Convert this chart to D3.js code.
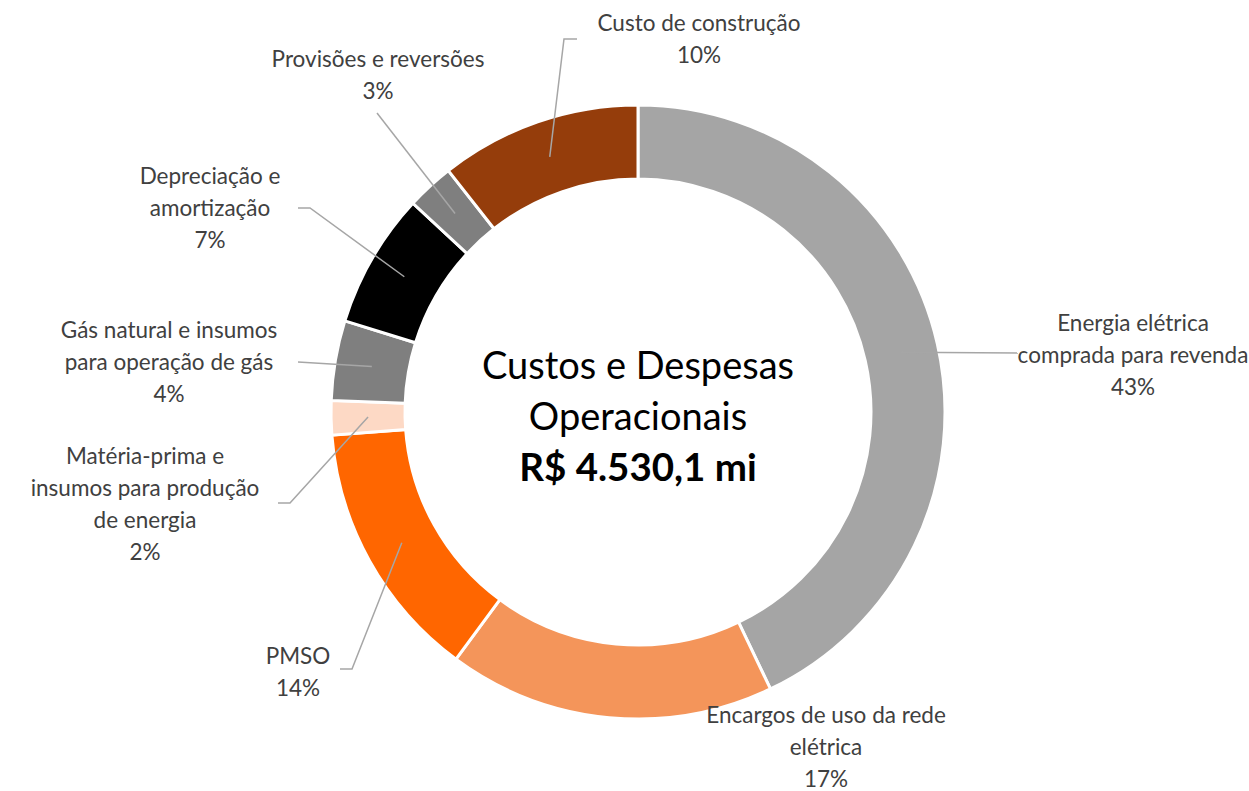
<!DOCTYPE html>
<html>
<head>
<meta charset="utf-8">
<script src="https://cdn.jsdelivr.net/npm/d3@7"></script>
<style>
  body { margin: 0; background: #fff; }
  text { font-family: Lato, "Open Sans", sans-serif; }
</style>
</head>
<body>
<div id="chart"></div>
<script>
// Chart data
var categories = [
  'Energia elétrica comprada para revenda',
  'Encargos de uso da rede elétrica',
  'PMSO',
  'Matéria-prima e insumos para produção de energia',
  'Gás natural e insumos para operação de gás',
  'Depreciação e amortização',
  'Provisões e reversões',
  'Custo de construção'
];
var shares = [42.9, 17.2, 13.7, 1.8, 4.2, 7.1, 2.5, 10.6];
var pctLabels = ['43%', '17%', '14%', '2%', '4%', '7%', '3%', '10%'];
var colors = ['#a5a5a5', '#f4955a', '#ff6600', '#fdd9c5', '#7f7f7f', '#000000', '#7f7f7f', '#953d0b'];
var centerTitle = ['Custos e Despesas', 'Operacionais'];
var centerValue = 'R$ 4.530,1 mi';

// Label layout: text lines, anchor x, first baseline y, leader points (elbow, end) or none
var labelLayout = [
  { lines: ['Energia elétrica', 'comprada para revenda'], x: 1133, y: 331, leader: [[1018, 353]] },
  { lines: ['Encargos de uso da rede', 'elétrica'], x: 826, y: 723, leader: null },
  { lines: ['PMSO'], x: 298, y: 664, leader: [[352, 669], [340, 669]] },
  { lines: ['Matéria-prima e', 'insumos para produção', 'de energia'], x: 145, y: 464, leader: [[290, 503], [278, 503]] },
  { lines: ['Gás natural e insumos', 'para operação de gás'], x: 169, y: 338, leader: [[298, 362]] },
  { lines: ['Depreciação e', 'amortização'], x: 210, y: 184, leader: [[310, 208], [298, 208]] },
  { lines: ['Provisões e reversões'], x: 378, y: 67, leader: [[377, 113]] },
  { lines: ['Custo de construção'], x: 699, y: 31, leader: [[564, 39], [577, 39]] }
];

var width = 1249, height = 791;
var cx = 638, cy = 412;
var outerR = 307, innerR = 233;
var lineH = 32;

var svg = d3.select('#chart')
            .append('svg')
            .attr('width', width)
            .attr('height', height);

var g = svg.append('g')
           .attr('transform', 'translate(' + cx + ',' + cy + ')');

var pie = d3.pie()
            .sort(null)
            .value(function(d) { return d; });

var arc = d3.arc()
            .innerRadius(innerR)
            .outerRadius(outerR);

var arcs = pie(shares);

// Slices
g.selectAll('path.slice')
 .data(arcs)
 .enter()
 .append('path')
 .attr('class', 'slice')
 .attr('d', arc)
 .attr('fill', function(d, i) { return colors[i]; })
 .attr('stroke', '#fff')
 .attr('stroke-width', 3);

// Leader lines from slice centroid to label
arcs.forEach(function(d, i) {
  var lay = labelLayout[i];
  if (!lay.leader) return;
  var c = arc.centroid(d);
  var pts = [[c[0] + cx, c[1] + cy]].concat(lay.leader);
  svg.append('path')
     .attr('d', d3.line()(pts))
     .attr('fill', 'none')
     .attr('stroke', '#a6a6a6')
     .attr('stroke-width', 1.5);
});

// Labels
labelLayout.forEach(function(lay, i) {
  var t = svg.append('text')
             .attr('text-anchor', 'middle')
             .attr('font-size', 22.5)
             .attr('fill', '#404040');
  lay.lines.concat([pctLabels[i]]).forEach(function(s, k) {
    t.append('tspan')
     .attr('x', lay.x)
     .attr('y', lay.y + k * lineH)
     .text(s);
  });
});

// Center text
var ct = svg.append('text')
            .attr('text-anchor', 'middle')
            .attr('fill', '#000');
centerTitle.forEach(function(s, k) {
  ct.append('tspan')
    .attr('x', cx)
    .attr('y', 379 + k * 51)
    .attr('font-size', 38)
    .text(s);
});
ct.append('tspan')
  .attr('x', cx)
  .attr('y', 481)
  .attr('font-size', 38.5)
  .attr('font-weight', 'bold')
  .text(centerValue);
</script>
</body>
</html>
